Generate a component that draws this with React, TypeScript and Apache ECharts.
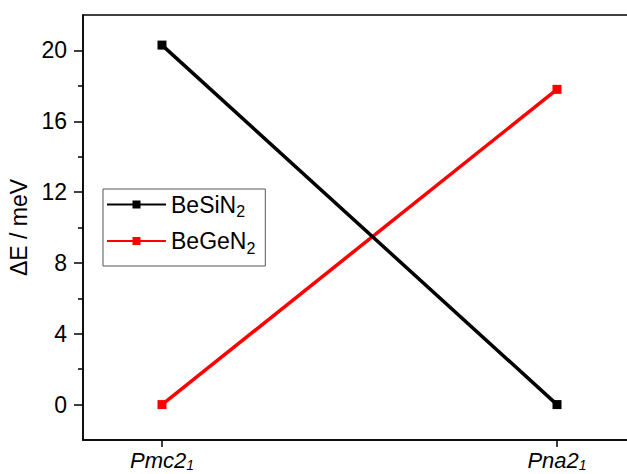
import React, { useEffect, useRef } from "react";
import * as echarts from "echarts";

const categoryNames = ["Pmc2", "Pna2"];
const categorySubs = ["1", "1"];
const seriesNames = ["BeSiN", "BeGeN"];
const seriesSubs = ["2", "2"];
const besin2 = [20.3, 0];
const begen2 = [0, 17.8];
const yTicks = [0, 4, 8, 12, 16, 20];
const yMinorTicks = [2, 6, 10, 14, 18];
const colors = ["#000000", "#ff0000"];

const FONT = "Liberation Sans, Arial, sans-serif";

export default function App() {
  const ref = useRef<HTMLDivElement>(null);
  useEffect(() => {
    if (!ref.current) return;
    const chart = echarts.init(ref.current, undefined, { renderer: "svg" });
    const xIdx = categoryNames.map((_, i) => i);
    const option: any = {
      animation: false,
      backgroundColor: "#ffffff",
      textStyle: { fontFamily: FONT },
      grid: {
        left: 83,
        top: 15,
        width: 553,
        bottom: 34,
        show: true,
        borderColor: "#000",
        borderWidth: 1.5,
        containLabel: false,
        outerBoundsMode: "none",
      },
      legend: {
        orient: "vertical",
        left: 103,
        top: 189,
        borderColor: "#555",
        borderWidth: 1,
        padding: [4, 10, 10, 3],
        itemGap: 10,
        itemWidth: 59,
        itemHeight: 10,
        data: seriesNames.map((n, i) => n + seriesSubs[i]),
        formatter: (name: string) => {
          const i = seriesNames.findIndex((n, k) => n + seriesSubs[k] === name);
          return `{b|${seriesNames[i]}}{s|${seriesSubs[i]}}`;
        },
        textStyle: {
          fontFamily: FONT,
          color: "#000",
          rich: {
            b: { fontSize: 23, fontFamily: FONT, color: "#000", lineHeight: 30 },
            s: { fontSize: 16, fontFamily: FONT, color: "#000", lineHeight: 16, verticalAlign: "bottom" },
          },
        },
      },
      xAxis: {
        type: "value",
        min: -0.2,
        max: 1.2,
        axisLine: { show: true, onZero: false, lineStyle: { color: "#000", width: 1.5 } },
        axisTick: {
          show: true,
          inside: false,
          length: 7,
          customValues: xIdx,
          lineStyle: { color: "#000", width: 1.5 },
        },
        axisLabel: {
          customValues: xIdx,
          margin: 8,
          formatter: (v: number) => {
            const i = Math.round(v);
            return `{i|${categoryNames[i]}}{s|${categorySubs[i]}}`;
          },
          rich: {
            i: { fontSize: 22, fontStyle: "italic", fontFamily: FONT, color: "#000", lineHeight: 24 },
            s: { fontSize: 14, fontStyle: "italic", fontFamily: FONT, color: "#000", lineHeight: 14, verticalAlign: "bottom" },
          },
        },
        splitLine: { show: false },
      },
      yAxis: [
        {
          type: "value",
          min: -2,
          max: 22,
          position: "left",
          name: "ΔE / meV",
          nameLocation: "middle",
          nameGap: 47,
          nameTextStyle: { fontSize: 23, fontFamily: FONT, color: "#000" },
          axisLine: { show: true, onZero: false, lineStyle: { color: "#000", width: 1.5 } },
          axisTick: {
            show: true,
            inside: false,
            length: 9,
            customValues: yTicks,
            lineStyle: { color: "#000", width: 1.5 },
          },
          axisLabel: {
            customValues: yTicks,
            margin: 16,
            fontSize: 23,
            fontFamily: FONT,
            color: "#000",
          },
          splitLine: { show: false },
        },
        {
          type: "value",
          min: -2,
          max: 22,
          position: "left",
          axisLine: { show: false, onZero: false },
          axisTick: {
            show: true,
            inside: false,
            length: 5,
            customValues: yMinorTicks,
            lineStyle: { color: "#000", width: 1.5 },
          },
          axisLabel: { show: false },
          splitLine: { show: false },
        },
      ],
      series: [besin2, begen2].map((vals, s) => ({
        name: seriesNames[s] + seriesSubs[s],
        type: "line",
        yAxisIndex: 0,
        data: vals.map((v, i) => [i, v]),
        symbol: "rect",
        symbolSize: 9,
        itemStyle: { color: colors[s] },
        lineStyle: { color: colors[s], width: 3.5 },
        z: 3 - s,
      })),
    };
    chart.setOption(option);
    return () => chart.dispose();
  }, []);
  return (
    <div
      ref={ref}
      style={{ position: "fixed", left: 0, top: 0, width: 627, height: 474 }}
    />
  );
}
